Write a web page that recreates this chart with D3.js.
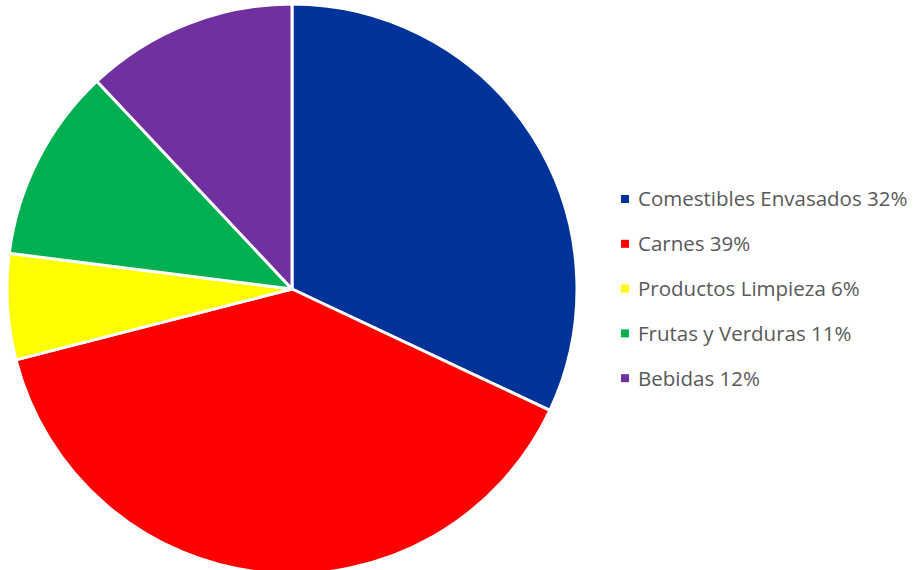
<!DOCTYPE html>
<html>
<head>
<meta charset="utf-8">
<script src="https://cdn.jsdelivr.net/npm/d3@7"></script>
<style>
  body { margin: 0; background: #fff; }
</style>
</head>
<body>
<div id="chart"></div>
<script>
// chart data
const categories = ["Comestibles Envasados", "Carnes", "Productos Limpieza", "Frutas y Verduras", "Bebidas"];
const values = [32, 39, 6, 11, 12];
const colors = ["#003399", "#FF0000", "#FFFF00", "#00B050", "#7030A0"];

const width = 915;
const height = 570;
const cx = 292, cy = 289, radius = 285;

const svg = d3.select('#chart')
  .append('svg')
  .attr('width', width)
  .attr('height', height);

const pie = d3.pie()
  .sort(null)
  .value(d => d);

const arc = d3.arc()
  .innerRadius(0)
  .outerRadius(radius);

svg.append('g')
  .attr('transform', `translate(${cx},${cy})`)
  .selectAll('path')
  .data(pie(values))
  .join('path')
    .attr('d', arc)
    .attr('fill', (d, i) => colors[i])
    .attr('stroke', '#fff')
    .attr('stroke-width', 3)
    .attr('stroke-linejoin', 'round');

// legend
const legend = svg.append('g')
  .attr('transform', 'translate(621,199)');

const row = legend.selectAll('g')
  .data(categories)
  .join('g')
    .attr('transform', (d, i) => `translate(0,${i * 44.8})`);

row.append('rect')
  .attr('x', 0)
  .attr('y', -4)
  .attr('width', 8)
  .attr('height', 8)
  .attr('fill', (d, i) => colors[i]);

row.append('text')
  .attr('x', 17)
  .attr('y', 0)
  .attr('dy', '0.36em')
  .attr('font-family', 'Open Sans, sans-serif')
  .attr('font-size', 20.5)
  .attr('fill', '#595959')
  .text((d, i) => `${d} ${values[i]}%`);
</script>
</body>
</html>
